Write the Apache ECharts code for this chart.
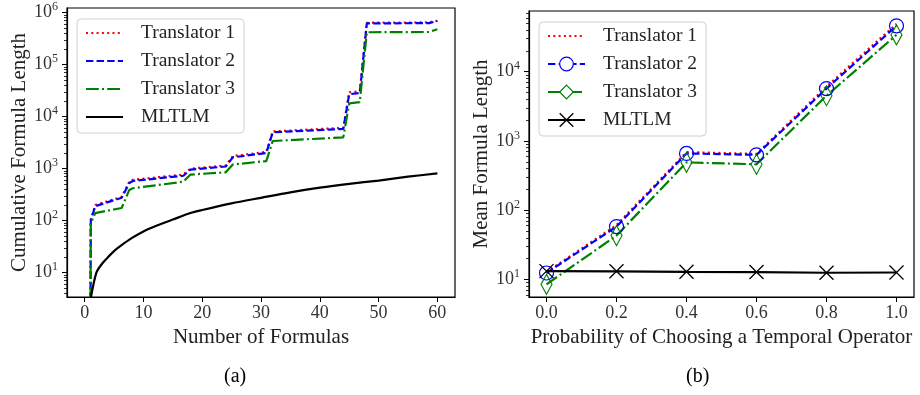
<!DOCTYPE html>
<html>
<head>
<meta charset="utf-8">
<script src="https://cdn.jsdelivr.net/npm/echarts@6/dist/echarts.min.js"></script>
<style>
  html, body { margin: 0; padding: 0; background: #fff; }
  #chart { width: 920px; height: 395px; }
</style>
</head>
<body>
<div id="chart"></div>
<script>
// (a) cumulative formula length
const stepX = [1, 1.05, 1.8, 6.3, 7.6, 8.2, 16.8, 18, 24, 25.2, 30.9, 32, 44, 45, 46.8, 48, 58.6, 60];
const t1Cum = [3, 105, 200, 285, 560, 610, 770, 1000, 1150, 1750, 2100, 5200, 6100, 29500, 30500, 640000, 650000, 700000];
const t2Cum = [3, 100, 190, 275, 530, 580, 730, 960, 1100, 1650, 2000, 5000, 5800, 27000, 28500, 620000, 630000, 690000];
const t3Cum = [3, 90, 140, 175, 390, 420, 560, 770, 850, 1200, 1400, 3400, 4000, 18000, 19000, 420000, 425000, 480000];
const mltlmX = [1, 2, 3, 4, 5, 6, 8, 10, 12, 15, 18, 20, 25, 30, 35, 40, 45, 50, 55, 60];
const mltlmCum = [3, 10, 15, 20, 26, 32, 46, 62, 78, 105, 140, 160, 215, 275, 350, 430, 510, 590, 700, 810];

// (b) mean formula length
const probX = [0, 0.2, 0.4, 0.6, 0.8, 1.0];
const t1Mean = [12.8, 61, 690, 650, 6100, 49000];
const t2Mean = [12.4, 58, 660, 630, 5700, 46000];
const t3Mean = [8.5, 43, 490, 460, 4500, 34000];
const mltlmMean = [13.2, 13.1, 12.9, 12.8, 12.5, 12.6];

const names = ['Translator 1', 'Translator 2', 'Translator 3', 'MLTLM'];
const ticksA = [0, 10, 20, 30, 40, 50, 60];
const ticksB = [0, 0.2, 0.4, 0.6, 0.8, 1.0];
const decadesA = [10, 100, 1000, 10000, 100000, 1000000];
const decadesB = [10, 100, 1000, 10000];

const FONT = 'Liberation Serif';
const pair = (xs, ys) => xs.map((x, i) => [x, ys[i]]);

function minorTicks(decs) {
  const out = [];
  [1].concat(decs).forEach(d => {
    for (let k = 2; k <= 9; k++) out.push(d * k);
  });
  return out;
}

const xCommon = {
  type: 'value',
  axisLine: { onZero: false, lineStyle: { color: '#000', width: 1.2 } },
  axisTick: { length: 5, lineStyle: { color: '#000', width: 1 } },
  splitLine: { show: false },
  nameLocation: 'middle',
  nameTextStyle: { fontFamily: FONT, fontSize: 21, color: '#222' },
  axisLabel: { fontFamily: FONT, fontSize: 18, color: '#333', margin: 7 }
};

const logLabel = {
  fontFamily: FONT, color: '#333', margin: 9,
  formatter: v => '{b|10}{s|' + Math.round(Math.log10(v)) + '}',
  rich: {
    b: { fontFamily: FONT, fontSize: 18, color: '#333' },
    s: { fontFamily: FONT, fontSize: 12, color: '#333', padding: [0, 0, 11, 0] }
  }
};

function majorY(grid, min, max, decs, name, gap) {
  return {
    type: 'log', gridIndex: grid, min: min, max: max,
    name: name, nameLocation: 'middle', nameGap: gap,
    nameTextStyle: { fontFamily: FONT, fontSize: 21, color: '#222' },
    axisLine: { show: true, onZero: false, lineStyle: { color: '#000', width: 1.2 } },
    axisTick: { length: 5, lineStyle: { color: '#000' }, customValues: decs },
    axisLabel: Object.assign({ customValues: decs }, logLabel),
    splitLine: { show: false }
  };
}
function minorY(grid, min, max, decs) {
  return {
    type: 'log', gridIndex: grid, min: min, max: max, position: 'left',
    axisLine: { show: false, onZero: false },
    axisTick: { length: 3, lineStyle: { color: '#000', width: 0.8 }, customValues: minorTicks(decs).filter(v => v > min && v < max) },
    axisLabel: { show: false },
    splitLine: { show: false }
  };
}

const dotted = [2, 3.3];
const dashed = [7.4, 3.2];
const dashdot = [12.8, 3.2, 2, 3.2];

const legendCommon = {
  orient: 'vertical',
  itemWidth: 37, itemHeight: 17, itemGap: 8,
  backgroundColor: 'rgba(255,255,255,0.8)',
  borderColor: '#d0d0d0', borderWidth: 1, borderRadius: 4,
  padding: [4, 9, 6, 8],
  textStyle: { fontFamily: FONT, fontSize: 19.5, color: '#222', lineHeight: 20, padding: [0, 0, 0, 13] }
};

const noMark = { opacity: 0 };
const xMark = 'path://M0,0L10,10M10,0L0,10';

const chart = echarts.init(document.getElementById('chart'), null, { renderer: 'canvas' });
chart.setOption({
  animation: false,
  backgroundColor: '#fff',
  grid: [
    { left: 67, right: 465, top: 8, bottom: 98, show: true, borderColor: '#000', borderWidth: 1.2, backgroundColor: 'transparent' },
    { left: 529, right: 6, top: 11, bottom: 98, show: true, borderColor: '#000', borderWidth: 1.2, backgroundColor: 'transparent' }
  ],
  legend: [
    Object.assign({ left: 77, top: 19 }, legendCommon, {
      data: names.map(n => ({ name: n, itemStyle: noMark }))
    }),
    Object.assign({ left: 539, top: 22 }, legendCommon, {
      data: [
        { name: names[0], itemStyle: noMark },
        { name: names[1], itemStyle: { color: '#fff', borderColor: '#0000ff', borderWidth: 1.2 } },
        { name: names[2], itemStyle: { color: '#fff', borderColor: '#008000', borderWidth: 1.2 } },
        { name: names[3], itemStyle: { color: 'transparent', borderColor: '#000', borderWidth: 1.3 } }
      ]
    })
  ],
  xAxis: [
    Object.assign({}, xCommon, {
      gridIndex: 0, min: -3, max: 63, name: 'Number of Formulas', nameGap: 30,
      axisTick: Object.assign({}, xCommon.axisTick, { customValues: ticksA }),
      axisLabel: Object.assign({}, xCommon.axisLabel, { customValues: ticksA })
    }),
    Object.assign({}, xCommon, {
      gridIndex: 1, min: -0.05, max: 1.05, name: 'Probability of Choosing a Temporal Operator', nameGap: 30,
      axisTick: Object.assign({}, xCommon.axisTick, { customValues: ticksB }),
      axisLabel: Object.assign({}, xCommon.axisLabel, { customValues: ticksB, formatter: v => v.toFixed(1) })
    })
  ],
  yAxis: [
    majorY(0, 3.4, 1.23e6, decadesA, 'Cumulative Formula Length', 36),
    minorY(0, 3.4, 1.23e6, decadesA),
    majorY(1, 5.58, 75200, decadesB, 'Mean Formula Length', 33),
    minorY(1, 5.58, 75200, decadesB)
  ],
  graphic: [
    { type: 'text', left: 224, top: 367, style: { text: '(a)', font: '20px "Liberation Serif"', fill: '#000' } },
    { type: 'text', left: 686, top: 367, style: { text: '(b)', font: '20px "Liberation Serif"', fill: '#000' } }
  ],
  series: [
    // left panel: symbols are hidden, but set so the shared legend names pick up the right markers
    { name: names[0], type: 'line', xAxisIndex: 0, yAxisIndex: 0, data: pair(stepX, t1Cum), showSymbol: false, symbol: 'none',
      lineStyle: { color: '#ff0000', width: 2.2, type: dotted }, itemStyle: { color: '#ff0000' } },
    { name: names[1], type: 'line', xAxisIndex: 0, yAxisIndex: 0, data: pair(stepX, t2Cum), showSymbol: false, symbol: 'circle',
      lineStyle: { color: '#0000ff', width: 2.2, type: dashed }, itemStyle: { color: '#0000ff' } },
    { name: names[2], type: 'line', xAxisIndex: 0, yAxisIndex: 0, data: pair(stepX, t3Cum), showSymbol: false, symbol: 'diamond',
      lineStyle: { color: '#008000', width: 2.2, type: dashdot }, itemStyle: { color: '#008000' } },
    { name: names[3], type: 'line', xAxisIndex: 0, yAxisIndex: 0, data: pair(mltlmX, mltlmCum), showSymbol: false, symbol: xMark, smooth: 0.3,
      lineStyle: { color: '#000', width: 2.2 }, itemStyle: { color: '#000' } },

    { name: names[0], type: 'line', xAxisIndex: 1, yAxisIndex: 2, data: pair(probX, t1Mean), symbol: 'none',
      lineStyle: { color: '#ff0000', width: 2.2, type: dotted }, itemStyle: { color: '#ff0000' } },
    { name: names[1], type: 'line', xAxisIndex: 1, yAxisIndex: 2, data: pair(probX, t2Mean), symbol: 'circle', symbolSize: 14,
      lineStyle: { color: '#0000ff', width: 2.2, type: dashed }, itemStyle: { color: 'transparent', borderColor: '#0000ff', borderWidth: 1.2 } },
    { name: names[2], type: 'line', xAxisIndex: 1, yAxisIndex: 2, data: pair(probX, t3Mean), symbol: 'diamond', symbolSize: [11, 20],
      lineStyle: { color: '#008000', width: 2.2, type: dashdot }, itemStyle: { color: 'transparent', borderColor: '#008000', borderWidth: 1.2 } },
    { name: names[3], type: 'line', xAxisIndex: 1, yAxisIndex: 2, data: pair(probX, mltlmMean), symbol: xMark, symbolSize: 14,
      lineStyle: { color: '#000', width: 2.2 }, itemStyle: { color: 'transparent', borderColor: '#000', borderWidth: 1.3 } }
  ]
});
</script>
</body>
</html>
